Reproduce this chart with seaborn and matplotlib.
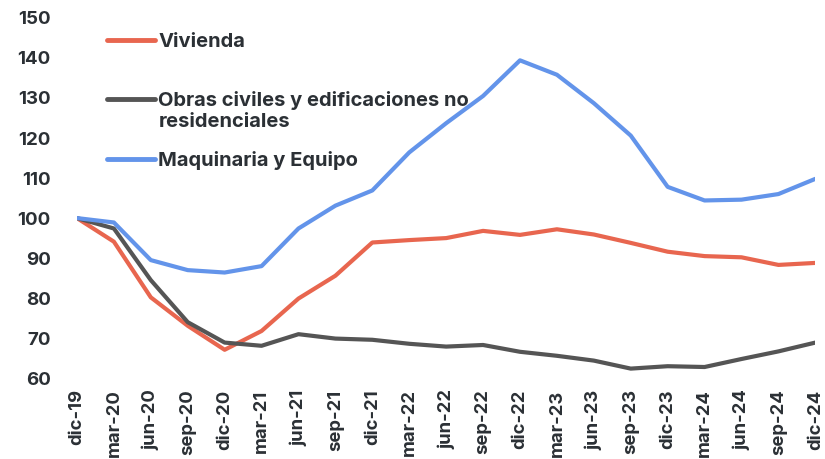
import matplotlib
matplotlib.use("Agg")
import matplotlib.pyplot as plt
import seaborn as sns
import pandas as pd

periodos = ["dic-19", "mar-20", "jun-20", "sep-20", "dic-20", "mar-21", "jun-21",
            "sep-21", "dic-21", "mar-22", "jun-22", "sep-22", "dic-22", "mar-23",
            "jun-23", "sep-23", "dic-23", "mar-24", "jun-24", "sep-24", "dic-24"]

vivienda = [100, 94.1, 80.2, 73.1, 67.1, 71.8, 79.9, 85.6, 93.9, 94.5, 95.0, 96.8,
            95.8, 97.2, 95.9, 93.8, 91.6, 90.5, 90.2, 88.3, 88.8]
obras = [100, 97.4, 84.5, 74.0, 68.9, 68.1, 71.0, 69.9, 69.6, 68.6, 67.9, 68.3,
         66.6, 65.6, 64.4, 62.4, 63.0, 62.8, 64.8, 66.7, 68.9]
maquinaria = [100, 98.9, 89.5, 87.0, 86.4, 88.0, 97.4, 103.1, 106.9, 116.4, 123.7,
              130.5, 139.4, 135.8, 128.7, 120.6, 107.8, 104.4, 104.6, 106.0, 109.8]

series = ["Vivienda", "Obras civiles y edificaciones no", "Maquinaria y Equipo"]
series_cont = "residenciales"  # segunda linea de la etiqueta de Obras
colores = ["#E8664F", "#555555", "#6394EA"]
texto = "#2B3035"

df = pd.DataFrame({
    "x": list(range(len(periodos))) * 3,
    "valor": vivienda + obras + maquinaria,
    "serie": [series[0]] * len(periodos) + [series[1]] * len(periodos) + [series[2]] * len(periodos),
})

sns.set_style("white")
plt.rcParams["font.family"] = ["Inter", "DejaVu Sans"]

fig = plt.figure(figsize=(8.25, 4.59), dpi=100)
ax = fig.add_axes([0.0933, 0.176, 0.895, 0.785])

sns.lineplot(data=df, x="x", y="valor", hue="serie", palette=colores,
             hue_order=series, linewidth=3, ax=ax)

ax.set_xlim(0, len(periodos) - 1)
ax.set_ylim(60, 150)
ax.set_xticks(range(len(periodos)))
ax.set_xticklabels(periodos, rotation=90)
ax.set_yticks(range(60, 151, 10))
ax.set_xlabel("")
ax.set_ylabel("")
for s in ax.spines.values():
    s.set_visible(False)
ax.tick_params(axis="y", length=0, pad=19, labelsize=13.5, labelcolor=texto)
ax.tick_params(axis="x", length=0, pad=8, labelsize=13.3, labelcolor=texto)
for t in ax.get_xticklabels() + ax.get_yticklabels():
    t.set_fontweight("bold")

leg = ax.legend(loc="upper left", bbox_to_anchor=(107 / 825, 1 - 33 / 459),
                bbox_transform=fig.transFigure, frameon=False, borderpad=0,
                borderaxespad=0, handlelength=2.4, handletextpad=0.15,
                labelspacing=2.0, prop={"weight": "bold", "size": 14.5})
for t in leg.get_texts():
    t.set_color(texto)
for h in leg.legend_handles:
    h.set_linewidth(3.5)

# segunda linea de la etiqueta, colgando bajo la primera
fig.canvas.draw()
bb = leg.get_texts()[1].get_window_extent().transformed(fig.transFigure.inverted())
fig.text(bb.x0, bb.y0 - 0.006, series_cont, ha="left", va="top",
         fontsize=14.5, fontweight="bold", color=texto)

fig.savefig("out.png", dpi=100)
